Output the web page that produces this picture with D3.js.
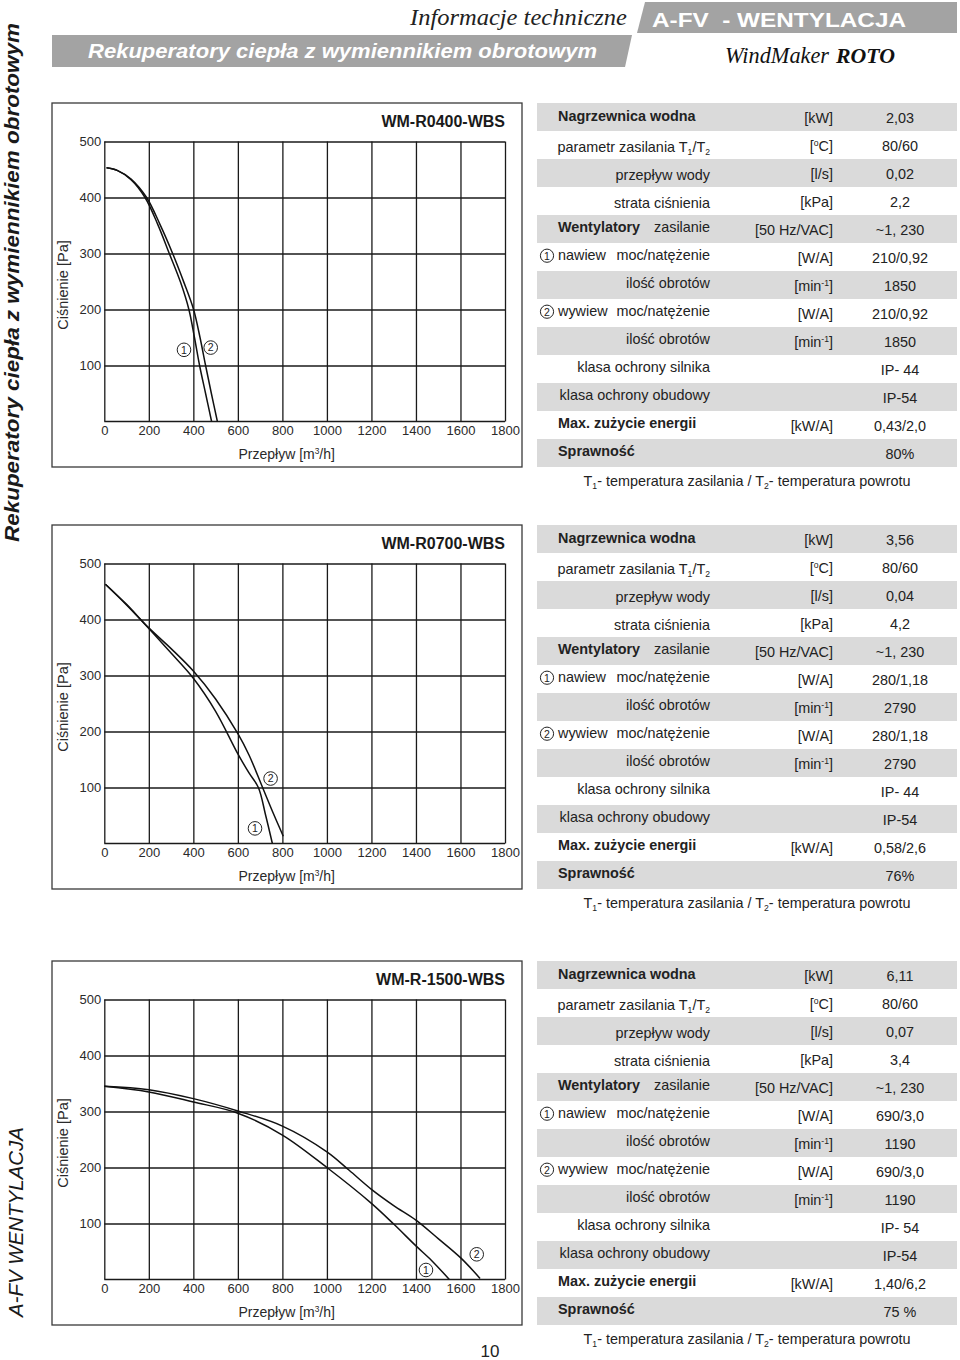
<!DOCTYPE html>
<html>
<head>
<meta charset="utf-8">
<script src="https://cdn.jsdelivr.net/npm/d3@7"></script>
<style>
  body { margin: 0; background: #fff; }
  svg { display: block; }
</style>
</head>
<body>
<div id="page"></div>
<script>
// ---- data ----
const flowTicks = [0, 200, 400, 600, 800, 1000, 1200, 1400, 1600, 1800];
const pressureTicks = [100, 200, 300, 400, 500];
const modelNames = ['WM-R0400-WBS', 'WM-R0700-WBS', 'WM-R-1500-WBS'];

// [flow m3/h, pressure Pa]  -- 1 = nawiew, 2 = wywiew
const supplyR0400 = [[10, 453], [60, 448], [120, 432], [183, 400], [240, 352], [292, 300], [343, 248], [380, 200], [405, 150], [428, 100], [455, 50], [482, 0]];
const exhaustR0400 = [[10, 453], [60, 448], [120, 433], [190, 400], [250, 352], [307, 300], [358, 248], [401, 200], [430, 150], [455, 100], [481, 50], [508, 0]];
const supplyR0700 = [[5, 463], [100, 426], [200, 384], [300, 340], [400, 295], [500, 236], [600, 160], [650, 126], [692, 100], [725, 50], [755, 0]];
const exhaustR0700 = [[5, 463], [100, 427], [200, 385], [300, 348], [400, 308], [500, 258], [600, 196], [650, 158], [711, 100], [760, 53], [804, 13]];
const supplyR1500 = [[0, 345], [200, 335], [400, 317], [600, 297], [800, 258], [1000, 200], [1200, 136], [1300, 99], [1400, 60], [1470, 34], [1550, 0]];
const exhaustR1500 = [[0, 345], [200, 339], [400, 323], [600, 301], [800, 274], [1000, 228], [1100, 195], [1200, 161], [1300, 132], [1400, 106], [1500, 73], [1600, 39], [1688, 2]];

// where the circled 1 / 2 markers sit, in flow/pressure units
const markersR0400 = [[358, 128], [478, 132]];
const markersR0700 = [[677, 27], [747, 116]];
const markersR1500 = [[1445, 17], [1673, 45]];

// table rows (same for all three units)
const rowTitles = ['Nagrzewnica wodna', '', '', '', 'Wentylatory', 'nawiew', '', 'wywiew', '', '', '', 'Max. zużycie energii', 'Sprawność'];
const rowMarks = ['', '', '', '', '', '1', '', '2', '', '', '', '', ''];
const rowParams = ['', 'parametr zasilania T_{1}/T_{2}', 'przepływ wody', 'strata ciśnienia', 'zasilanie', 'moc/natężenie', 'ilość obrotów', 'moc/natężenie', 'ilość obrotów', 'klasa ochrony silnika', 'klasa ochrony obudowy', '', ''];
const rowUnits = ['[kW]', '[^{o}C]', '[l/s]', '[kPa]', '[50 Hz/VAC]', '[W/A]', '[min^{-1}]', '[W/A]', '[min^{-1}]', '', '', '[kW/A]', ''];
const valuesR0400 = ['2,03', '80/60', '0,02', '2,2', '~1, 230', '210/0,92', '1850', '210/0,92', '1850', 'IP- 44', 'IP-54', '0,43/2,0', '80%'];
const valuesR0700 = ['3,56', '80/60', '0,04', '4,2', '~1, 230', '280/1,18', '2790', '280/1,18', '2790', 'IP- 44', 'IP-54', '0,58/2,6', '76%'];
const valuesR1500 = ['6,11', '80/60', '0,07', '3,4', '~1, 230', '690/3,0', '1190', '690/3,0', '1190', 'IP- 54', 'IP-54', '1,40/6,2', '75 %'];
const footnote = 'T_{1}- temperatura zasilania / T_{2}- temperatura powrotu';

const blocks = [
  { name: modelNames[0], supply: supplyR0400, exhaust: exhaustR0400, marks: markersR0400, values: valuesR0400 },
  { name: modelNames[1], supply: supplyR0700, exhaust: exhaustR0700, marks: markersR0700, values: valuesR0700 },
  { name: modelNames[2], supply: supplyR1500, exhaust: exhaustR1500, marks: markersR1500, values: valuesR1500 }
];

// ---- layout ----
const sans = "'Liberation Sans', Arial, Helvetica, sans-serif";
const serif = "'Liberation Serif', 'Times New Roman', serif";
const ink = '#222';
const bannerGray = '#a3a3a3';
const rowGray = '#dadada';

const blockTops = [103, 525, 961];
const frame = { x: 52, w: 470, h: 364 };
const plot = { left: 104.3, right: 505, top: 38.5, bottom: 318.5 };
const table = { x0: 537, x1: 957, rowH: 28, left: 558, right: 710, unit: 833, value: 900 };
const labelBase = [18, 21, 21, 21, 17, 17, 17, 17, 17, 17, 17, 17, 17];

const svg = d3.select('#page').append('svg')
  .attr('width', 960)
  .attr('height', 1360)
  .style('font-family', sans);

// text with _{sub} and ^{sup} pieces
function rich(textSel, str, size) {
  const parts = str.split(/(_\{[^}]*\}|\^\{[^}]*\})/).filter(s => s.length);
  let shift = 0;
  parts.forEach(p => {
    let dy = 0, txt = p, fs = size;
    if (p.startsWith('_{')) { dy = 3 - shift; shift = 3; txt = p.slice(2, -1); fs = size * 0.6; }
    else if (p.startsWith('^{')) { dy = -5 - shift; shift = -5; txt = p.slice(2, -1); fs = size * 0.6; }
    else { dy = -shift; shift = 0; }
    textSel.append('tspan').attr('dy', dy).style('font-size', fs + 'px').text(txt);
  });
  return textSel;
}

function circledDigit(g, cx, cy, digit, r) {
  g.append('circle').attr('cx', cx).attr('cy', cy).attr('r', r)
    .attr('fill', '#fff').attr('stroke', ink).attr('stroke-width', 1);
  g.append('text').attr('x', cx).attr('y', cy + 3.8)
    .attr('text-anchor', 'middle')
    .style('font-size', '10.5px').attr('fill', ink)
    .text(digit);
}

// ---- header ----
svg.append('polygon').attr('points', '645,2 957,2 957,33 637,33').attr('fill', bannerGray);
svg.append('polygon').attr('points', '52,35 632,35 625,67 52,67').attr('fill', bannerGray);

svg.append('text').attr('x', 627).attr('y', 25).attr('text-anchor', 'end')
  .style('font-family', serif).style('font-style', 'italic').style('font-size', '24px')
  .attr('textLength', 217).attr('lengthAdjust', 'spacingAndGlyphs')
  .attr('fill', '#222').text('Informacje techniczne');

svg.append('text').attr('x', 652).attr('y', 27)
  .style('font-weight', 'bold').style('font-size', '21px')
  .attr('textLength', 254).attr('lengthAdjust', 'spacingAndGlyphs')
  .attr('fill', '#fff').attr('xml:space', 'preserve').text('A-FV  - WENTYLACJA');

svg.append('text').attr('x', 88).attr('y', 57.5)
  .style('font-style', 'italic').style('font-weight', 'bold').style('font-size', '20.5px')
  .attr('textLength', 509).attr('lengthAdjust', 'spacingAndGlyphs')
  .attr('fill', '#fff').text('Rekuperatory ciepła z wymiennikiem obrotowym');

svg.append('text').attr('x', 725).attr('y', 63)
  .style('font-family', serif).style('font-style', 'italic').style('font-size', '23px')
  .attr('textLength', 104).attr('lengthAdjust', 'spacingAndGlyphs')
  .attr('fill', '#111').text('WindMaker');
svg.append('text').attr('x', 836).attr('y', 63)
  .style('font-family', serif).style('font-style', 'italic').style('font-weight', 'bold').style('font-size', '22px')
  .attr('textLength', 59).attr('lengthAdjust', 'spacingAndGlyphs')
  .attr('fill', '#111').text('ROTO');

// side labels
svg.append('text').attr('transform', 'translate(19,282.5) rotate(-90)')
  .attr('text-anchor', 'middle')
  .style('font-style', 'italic').style('font-weight', 'bold').style('font-size', '20px')
  .attr('textLength', 519).attr('lengthAdjust', 'spacingAndGlyphs')
  .attr('fill', '#1a1a1a').text('Rekuperatory ciepła z wymiennikiem obrotowym');

svg.append('text').attr('transform', 'translate(22.5,1222) rotate(-90)')
  .attr('text-anchor', 'middle')
  .style('font-style', 'italic').style('font-size', '20.5px')
  .attr('textLength', 190).attr('lengthAdjust', 'spacingAndGlyphs')
  .attr('fill', '#1a1a1a').text('A-FV WENTYLACJA');

svg.append('text').attr('x', 490).attr('y', 1357).attr('text-anchor', 'middle')
  .style('font-size', '17px').attr('fill', ink).text('10');

// ---- charts ----
const x = d3.scaleLinear().domain([0, 1800]).range([plot.left, plot.right]);
const y = d3.scaleLinear().domain([0, 500]).range([plot.bottom, plot.top]);
const line = d3.line()
  .curve(d3.curveCatmullRom.alpha(0.5))
  .x(d => x(d[0]))
  .y(d => y(d[1]));

function drawChart(g, b) {
  g.append('rect')
    .attr('x', frame.x).attr('y', 0).attr('width', frame.w).attr('height', frame.h)
    .attr('fill', 'none').attr('stroke', '#3a3a3a').attr('stroke-width', 1.3);

  g.append('text').attr('x', plot.right).attr('y', 24).attr('text-anchor', 'end')
    .style('font-weight', 'bold').style('font-size', '16px').attr('fill', '#1a1a1a')
    .text(b.name);

  // vertical grid + flow labels
  g.append('g')
    .attr('transform', `translate(0,${plot.bottom})`)
    .call(d3.axisBottom(x).tickValues(flowTicks).tickSize(-(plot.bottom - plot.top)).tickPadding(4).tickFormat(d3.format('d')))
    .call(a => a.attr('font-family', sans).attr('font-size', 13))
    .call(a => a.select('.domain').remove())
    .call(a => a.selectAll('.tick line').attr('stroke', '#1a1a1a').attr('stroke-width', 1.3))
    .call(a => a.selectAll('.tick text').attr('fill', '#2a2a2a'));

  // horizontal grid + pressure labels
  g.append('g')
    .attr('transform', `translate(${plot.left},0)`)
    .call(d3.axisLeft(y).tickValues(pressureTicks).tickSize(-(plot.right - plot.left)).tickPadding(3))
    .call(a => a.attr('font-family', sans).attr('font-size', 13))
    .call(a => a.select('.domain').remove())
    .call(a => a.selectAll('.tick line').attr('stroke', '#1a1a1a').attr('stroke-width', 1.3))
    .call(a => a.selectAll('.tick text').attr('fill', '#2a2a2a'));

  g.append('line')
    .attr('x1', plot.left).attr('x2', plot.right)
    .attr('y1', plot.bottom).attr('y2', plot.bottom)
    .attr('stroke', '#1a1a1a').attr('stroke-width', 1.3);

  // axis titles
  rich(g.append('text').attr('x', 286.7).attr('y', 356).attr('text-anchor', 'middle')
    .style('font-size', '14px').attr('fill', '#2a2a2a'), 'Przepływ [m^{3}/h]', 14);

  g.append('text')
    .attr('transform', `translate(68,${182}) rotate(-90)`)
    .attr('text-anchor', 'middle')
    .style('font-size', '14.5px').attr('fill', '#2a2a2a')
    .text('Ciśnienie [Pa]');

  [b.supply, b.exhaust].forEach(series => {
    g.append('path')
      .datum(series)
      .attr('fill', 'none')
      .attr('stroke', '#111')
      .attr('stroke-width', 1.5)
      .attr('d', line);
  });

  b.marks.forEach((m, i) => circledDigit(g, x(m[0]), y(m[1]), String(i + 1), 6.8));
}

function drawTable(g, values) {
  const rows = g.selectAll('g.row').data(values).enter().append('g')
    .attr('class', 'row')
    .attr('transform', (d, i) => `translate(0,${i * table.rowH})`);

  rows.filter((d, i) => i % 2 === 0).append('rect')
    .attr('x', table.x0).attr('width', table.x1 - table.x0)
    .attr('height', table.rowH).attr('fill', rowGray);

  rows.each(function (val, i) {
    const r = d3.select(this);
    const base = labelBase[i];
    if (rowMarks[i]) circledDigit(r, 547, 12.7, rowMarks[i], 6.6);
    if (rowTitles[i]) {
      r.append('text').attr('x', table.left).attr('y', base)
        .style('font-size', '14.4px')
        .style('font-weight', rowMarks[i] ? 'normal' : 'bold')
        .attr('fill', ink)
        .text(rowTitles[i]);
    }
    if (rowParams[i]) {
      rich(r.append('text').attr('x', table.right).attr('y', base).attr('text-anchor', 'end')
        .style('font-size', '14.4px').attr('fill', ink), rowParams[i], 14.4);
    }
    if (rowUnits[i]) {
      rich(r.append('text').attr('x', table.unit).attr('y', 20).attr('text-anchor', 'end')
        .style('font-size', '14.4px').attr('fill', ink), rowUnits[i], 14.4);
    }
    r.append('text').attr('x', table.value).attr('y', 20).attr('text-anchor', 'middle')
      .style('font-size', '14.4px').attr('fill', ink)
      .text(val);
  });

  rich(g.append('text').attr('x', 747).attr('y', 383).attr('text-anchor', 'middle')
    .style('font-size', '14.4px').attr('fill', ink), footnote, 14.4);
}

blocks.forEach((b, k) => {
  const g = svg.append('g').attr('transform', `translate(0,${blockTops[k]})`);
  drawChart(g.append('g'), b);
  drawTable(g.append('g'), b.values);
});
</script>
</body>
</html>
